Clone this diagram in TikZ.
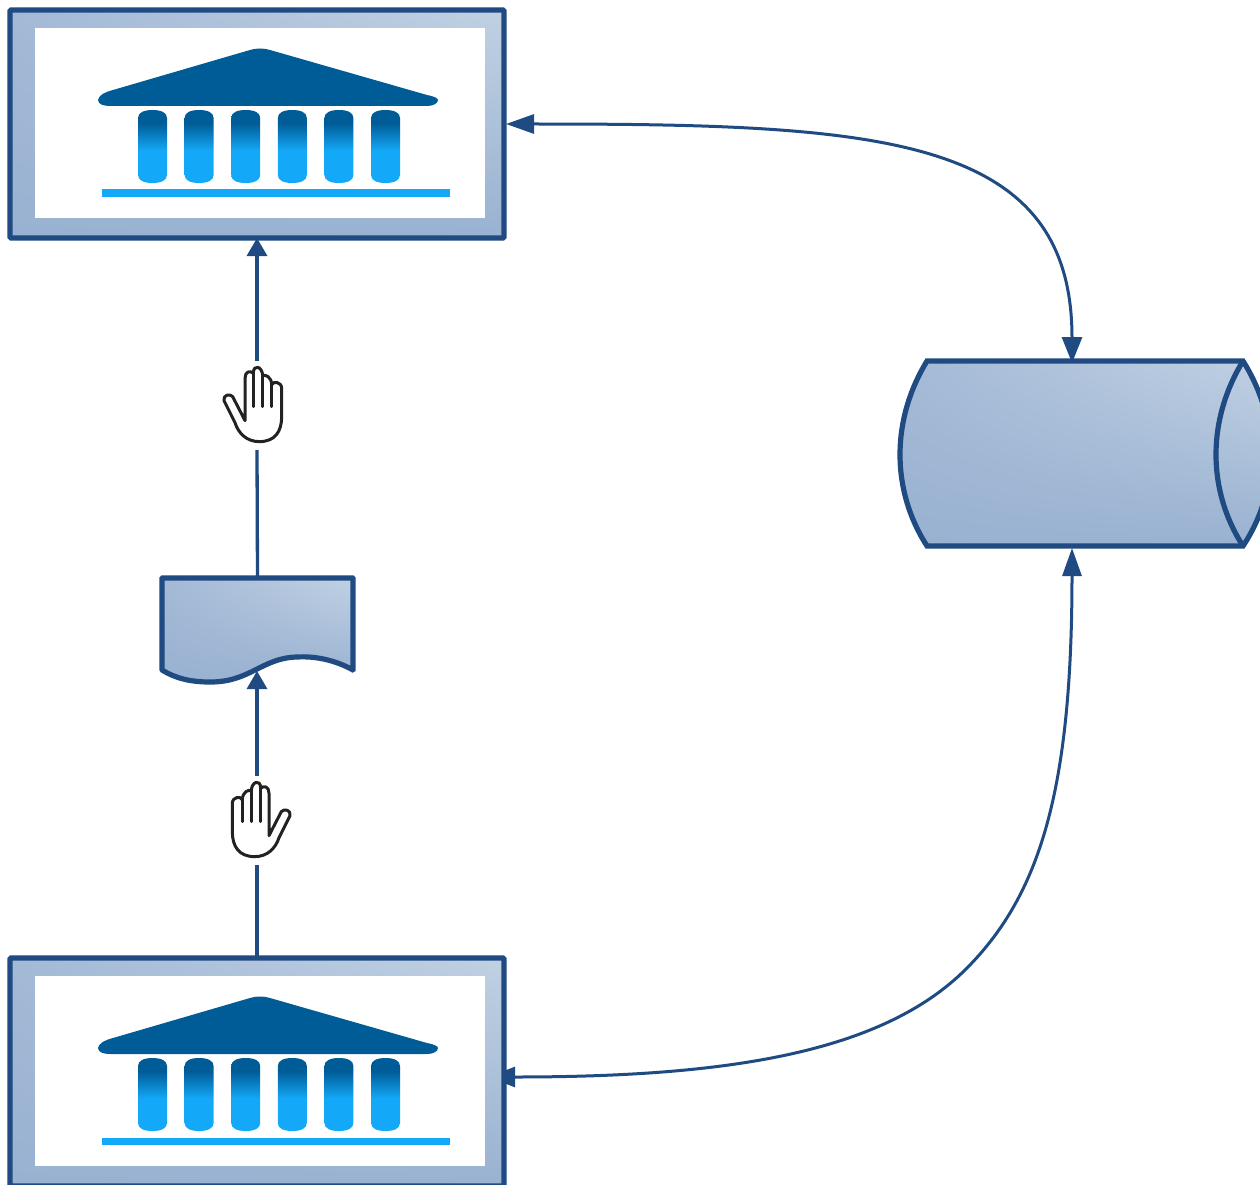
\documentclass[tikz,border=0pt]{standalone}
\usetikzlibrary{arrows.meta,shadings,calc}
\definecolor{edge}{HTML}{1F4B82}
\definecolor{fillA}{HTML}{99B2D1}
\definecolor{fillB}{HTML}{A3B9D6}
\definecolor{fillC}{HTML}{C1D1E3}
\definecolor{roof}{HTML}{005C97}
\definecolor{sky}{HTML}{14A9F8}
\definecolor{handc}{HTML}{222222}
\pgfdeclareverticalshading{colgrad}{100bp}{color(0bp)=(sky);color(47bp)=(sky);color(66bp)=(roof);color(100bp)=(roof)}
\tikzset{
  gradfill/.style={shading=bilinear interpolation,lower left=fillA,lower right=fillA,upper left=fillB,upper right=fillC},
  framebox/.style={draw=edge,line width=5.2pt,rounded corners=1pt,gradfill,minimum width=494pt,minimum height=228pt,inner sep=0pt,outer sep=0pt},
  ghost/.style={inner sep=0pt,outer sep=0pt},
  handbox/.style={ghost,minimum width=60pt,minimum height=89pt},
  conn/.style={draw=edge,line width=3.3pt},
  curveconn/.style={draw=edge,line width=3pt},
  tip/.style={-{Triangle[length=18pt,width=20pt,fill=edge]}},
  tipboth/.style={{Triangle[length=28pt,width=19pt,fill=edge]}-{Triangle[length=26pt,width=20pt,fill=edge]}},
  outline/.style={draw=edge,line width=5.2pt,line join=miter},
  temple/.pic={
    \fill[white] (35,28) rectangle (485,218);
    \fill[roof] (98,100) .. controls (99,95) and (105,92) .. (113,90) -- (250,50)
      .. controls (256,48) and (264,48) .. (270,50) -- (427,95)
      .. controls (433,96) and (438,98) .. (438,100)
      .. controls (438,104) and (432,106) .. (427,106) -- (110,106)
      .. controls (103,106) and (98,104) .. (98,100) -- cycle;
    \foreach \cx in {138,184.6,231.2,277.8,324.4,371}{
      \shade[shading=colgrad] (\cx,118)
        .. controls (\cx,112.5) and (\cx+6,110) .. (\cx+14.5,110)
        .. controls (\cx+23,110) and (\cx+29,112.5) .. (\cx+29,118) -- (\cx+29,175)
        .. controls (\cx+29,180.5) and (\cx+23,183) .. (\cx+14.5,183)
        .. controls (\cx+6,183) and (\cx,180.5) .. (\cx,175) -- cycle;
    }
    \fill[sky] (102,189.5) rectangle (450,197);
  },
  handpic/.pic={
    \begin{scope}[scale=1/3,shift={(-171,-160)}]
    \draw[handc,line width=3pt,line join=round,line cap=round,fill=white]
      (135,212) -- (98,140) .. controls (90,130) and (68,135) .. (72,152)
      -- (105,218) .. controls (115,250) and (140,275) .. (178,275)
      .. controls (225,275) and (245,245) .. (245,200) -- (245,115)
      .. controls (245,95) and (218,92) .. (215,105)
      .. controls (215,80) and (195,72) .. (188,78)
      .. controls (188,50) and (160,40) .. (160,70)
      .. controls (150,60) and (135,65) .. (135,85) -- cycle;
    \draw[handc,line width=3pt,line cap=round]
      (215,105) -- (215,170) (188,78) -- (188,170) (160,70) -- (160,170);
    \end{scope}
  }
}
\begin{document}
\begin{tikzpicture}[x=1pt,y=-1pt]
\useasboundingbox (0,0) rectangle (1260,1185);
\clip (0,0) rectangle (1260,1185);
\fill[white] (0,0) rectangle (1260,1185);
% named places
\node[ghost,minimum width=191pt,minimum height=93pt] (doc) at (257.5,624.5) {};
\node[ghost,minimum width=343pt,minimum height=185pt] (drum) at (1072,453.5) {};
\node[handbox] (handT) at (257,405.5) {};
\node[handbox] (handB) at (257,820) {};
\coordinate (inT) at (506,124);
\coordinate (inB) at (489,1077);
\coordinate (docLow) at (257,671);
\coordinate (drumLow) at (1072,548);
% lower curve runs beneath the frame
\draw[curveconn,tipboth] (drumLow) .. controls (1072,790) and (1040,895) .. (966,969)
  .. controls (880,1055) and (720,1077) .. (inB);
% frames with temples
\node[framebox] (bankT) at (257,124) {};
\node[framebox] (bankB) at (257,1072) {};
\pic at (0,0) {temple};
\pic at (0,948) {temple};
% document
\path[outline,gradfill,rounded corners=0.5pt] (162,578) -- (353,578) -- (353,670)
  .. controls (335,660) and (315,656) .. (297,657)
  .. controls (262,658) and (250,682) .. (210,682)
  .. controls (190,682) and (175,678) .. (162,670) -- cycle;
% drum
\path[outline,gradfill] (927,361) -- (1243,361)
  .. controls (1280,420) and (1280,490) .. (1243,546) -- (927,546)
  .. controls (891,490) and (891,420) .. (927,361) -- cycle;
\draw[outline] (1243,361) .. controls (1207,420) and (1207,490) .. (1243,546);
% hands
\pic at (257,403.3) {handpic};
\pic[xscale=-1] at (257,818.3) {handpic};
% connectors
\draw[conn] (doc.north) -- (handT.south);
\draw[conn,tip] (handT.north) -- (bankT.south);
\draw[conn] (bankB.north) -- (handB.south);
\draw[conn,tip] (handB.north) -- (docLow);
\draw[curveconn,tipboth] (inT) .. controls (880,124) and (1072,135) .. ([yshift=-2pt]drum.north);
\end{tikzpicture}
\end{document}
